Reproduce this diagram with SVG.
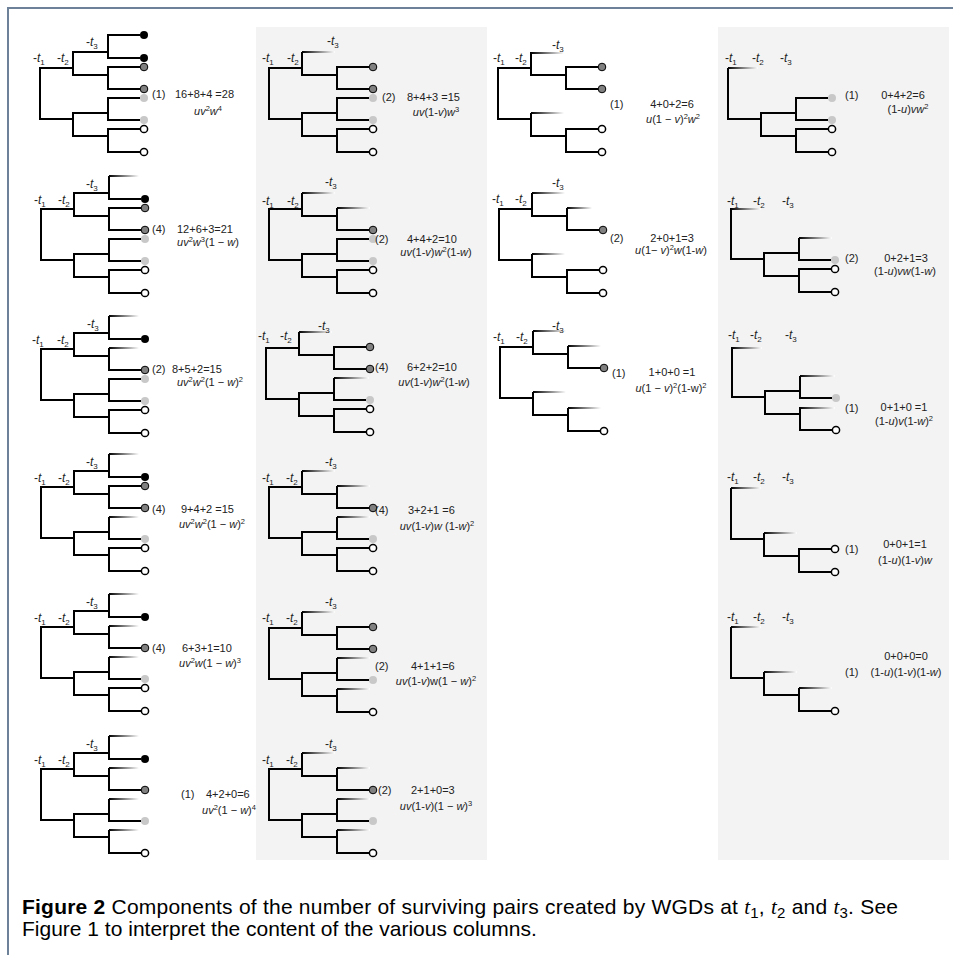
<svg xmlns="http://www.w3.org/2000/svg" width="953" height="955" viewBox="0 0 953 955">
<defs>
<linearGradient id="fade" x1="0" y1="0" x2="1" y2="0"><stop offset="0" stop-color="#000"/><stop offset="1" stop-color="#fff"/></linearGradient>
<style>
.br{fill:none;stroke:#000;stroke-width:2;stroke-linejoin:miter}
.fd{fill:url(#fade)}
.k{fill:#000}
.d{fill:#808080;stroke:#000;stroke-width:1}
.l{fill:#c8c8c8}
.w{fill:#fff;stroke:#000;stroke-width:1.5}
.lb{font-family:"Liberation Sans",Arial,sans-serif;font-size:12px;fill:#222}
.tx{font-family:"Liberation Sans",Arial,sans-serif;font-size:11px;fill:#222}
.i{font-style:italic}
.sb{font-size:8px}
.sp{font-size:7.5px}
.cap{font-family:"Liberation Sans",Arial,sans-serif;font-size:21px;fill:#000}
.m{font-family:"Liberation Serif",serif;font-style:italic}
.panel{fill:#f3f3f3}
.frame{stroke:#6d8299;stroke-width:2;fill:none}
</style>
</defs>
<path class="frame" d="M8 955V8H953"/>
<rect class="panel" x="256" y="27" width="231" height="833"/>
<rect class="panel" x="718" y="27" width="231" height="833"/>

<!-- Column 1 -->
<g id="c1r1">
<g transform="translate(40,35)">
<path class="br" d="M33 33H0V84H33M68 17H33V40H68M100 0H68V23H100M100 32H68V54H100M68 78H33V101H68M100 63H68V85H100M100 94H68V117H100"/>
<circle class="k" cx="104" cy="0" r="4"/><circle class="k" cx="104" cy="23" r="4"/><circle class="d" cx="104" cy="32" r="3.8"/><circle class="d" cx="104" cy="54" r="3.8"/><circle class="l" cx="104" cy="63" r="4"/><circle class="l" cx="104" cy="85" r="4"/><circle class="w" cx="104" cy="94" r="3.6"/><circle class="w" cx="104" cy="117" r="3.6"/>
<text class="lb" x="-7" y="27">-<tspan class="i">t</tspan><tspan class="sb" dy="3">1</tspan></text>
<text class="lb" x="17" y="27">-<tspan class="i">t</tspan><tspan class="sb" dy="3">2</tspan></text>
<text class="lb" x="46" y="11">-<tspan class="i">t</tspan><tspan class="sb" dy="3">3</tspan></text>
</g>
<text class="tx" x="152" y="98">(1)</text><text class="tx" x="175" y="98">16+8+4 =28</text>
<text class="tx" x="208" y="115" text-anchor="middle"><tspan class="i">uv</tspan><tspan class="sp" dy="-4">2</tspan><tspan class="i" dy="4">w</tspan><tspan class="sp" dy="-4">4</tspan></text>
</g>

<g id="c1r2">
<g transform="translate(41,176)">
<path class="br" d="M33 33H0V84H33M68 17H33V40H68M68 0V23H100M100 32H68V54H100M68 78H33V101H68M100 63H68V85H100M100 94H68V117H100"/>
<rect class="fd" x="68" y="-1" width="30" height="2"/>
<circle class="k" cx="104" cy="23" r="4"/><circle class="d" cx="104" cy="32" r="3.8"/><circle class="d" cx="104" cy="54" r="3.8"/><circle class="l" cx="104" cy="63" r="4"/><circle class="l" cx="104" cy="85" r="4"/><circle class="w" cx="104" cy="94" r="3.6"/><circle class="w" cx="104" cy="117" r="3.6"/>
<text class="lb" x="-7" y="28">-<tspan class="i">t</tspan><tspan class="sb" dy="3">1</tspan></text>
<text class="lb" x="17" y="28">-<tspan class="i">t</tspan><tspan class="sb" dy="3">2</tspan></text>
<text class="lb" x="45" y="12">-<tspan class="i">t</tspan><tspan class="sb" dy="3">3</tspan></text>
</g>
<text class="tx" x="152" y="233">(4)</text><text class="tx" x="177" y="233">12+6+3=21</text>
<text class="tx" x="208" y="246" text-anchor="middle"><tspan class="i">uv</tspan><tspan class="sp" dy="-4">2</tspan><tspan class="i" dy="4">w</tspan><tspan class="sp" dy="-4">3</tspan><tspan dy="4">(1 − </tspan><tspan class="i">w</tspan>)</text>
</g>

<g id="c1r3">
<g transform="translate(41,316)">
<path class="br" d="M33 33H0V84H33M68 17H33V40H68M68 0V23H100M68 32V54H100M68 78H33V101H68M100 63H68V85H100M100 94H68V117H100"/>
<rect class="fd" x="68" y="-1" width="30" height="2"/><rect class="fd" x="68" y="31" width="30" height="2"/>
<circle class="k" cx="104" cy="23" r="4"/><circle class="d" cx="104" cy="54" r="3.8"/><circle class="l" cx="104" cy="63" r="4"/><circle class="l" cx="104" cy="85" r="4"/><circle class="w" cx="104" cy="94" r="3.6"/><circle class="w" cx="104" cy="117" r="3.6"/>
<text class="lb" x="-9" y="28">-<tspan class="i">t</tspan><tspan class="sb" dy="3">1</tspan></text>
<text class="lb" x="16" y="28">-<tspan class="i">t</tspan><tspan class="sb" dy="3">2</tspan></text>
<text class="lb" x="46" y="12">-<tspan class="i">t</tspan><tspan class="sb" dy="3">3</tspan></text>
</g>
<text class="tx" x="152" y="373">(2)</text><text class="tx" x="172" y="373">8+5+2=15</text>
<text class="tx" x="210" y="386" text-anchor="middle"><tspan class="i">uv</tspan><tspan class="sp" dy="-4">2</tspan><tspan class="i" dy="4">w</tspan><tspan class="sp" dy="-4">2</tspan><tspan dy="4">(1 − </tspan><tspan class="i">w</tspan>)<tspan class="sp" dy="-4">2</tspan></text>
</g>

<g id="c1r4">
<g transform="translate(41,454)">
<path class="br" d="M33 33H0V84H33M68 17H33V40H68M68 0V23H100M100 32H68V54H100M68 78H33V101H68M68 63V85H100M100 94H68V117H100"/>
<rect class="fd" x="68" y="-1" width="30" height="2"/><rect class="fd" x="68" y="62" width="30" height="2"/>
<circle class="k" cx="104" cy="23" r="4"/><circle class="d" cx="104" cy="32" r="3.8"/><circle class="d" cx="104" cy="54" r="3.8"/><circle class="l" cx="104" cy="85" r="4"/><circle class="w" cx="104" cy="94" r="3.6"/><circle class="w" cx="104" cy="117" r="3.6"/>
<text class="lb" x="-7" y="28">-<tspan class="i">t</tspan><tspan class="sb" dy="3">1</tspan></text>
<text class="lb" x="17" y="28">-<tspan class="i">t</tspan><tspan class="sb" dy="3">2</tspan></text>
<text class="lb" x="45" y="12">-<tspan class="i">t</tspan><tspan class="sb" dy="3">3</tspan></text>
</g>
<text class="tx" x="152" y="513">(4)</text><text class="tx" x="181" y="513">9+4+2 =15</text>
<text class="tx" x="212" y="528" text-anchor="middle"><tspan class="i">uv</tspan><tspan class="sp" dy="-4">2</tspan><tspan class="i" dy="4">w</tspan><tspan class="sp" dy="-4">2</tspan><tspan dy="4">(1 − </tspan><tspan class="i">w</tspan>)<tspan class="sp" dy="-4">2</tspan></text>
</g>

<g id="c1r5">
<g transform="translate(41,594)">
<path class="br" d="M33 33H0V84H33M68 17H33V40H68M68 0V23H100M68 32V54H100M68 78H33V101H68M68 63V85H100M100 94H68V117H100"/>
<rect class="fd" x="68" y="-1" width="30" height="2"/><rect class="fd" x="68" y="31" width="30" height="2"/><rect class="fd" x="68" y="62" width="30" height="2"/>
<circle class="k" cx="104" cy="23" r="4"/><circle class="d" cx="104" cy="54" r="3.8"/><circle class="l" cx="104" cy="85" r="4"/><circle class="w" cx="104" cy="94" r="3.6"/><circle class="w" cx="104" cy="117" r="3.6"/>
<text class="lb" x="-7" y="28">-<tspan class="i">t</tspan><tspan class="sb" dy="3">1</tspan></text>
<text class="lb" x="17" y="28">-<tspan class="i">t</tspan><tspan class="sb" dy="3">2</tspan></text>
<text class="lb" x="45" y="12">-<tspan class="i">t</tspan><tspan class="sb" dy="3">3</tspan></text>
</g>
<text class="tx" x="152" y="652">(4)</text><text class="tx" x="182" y="652">6+3+1=10</text>
<text class="tx" x="210" y="667" text-anchor="middle"><tspan class="i">uv</tspan><tspan class="sp" dy="-4">2</tspan><tspan class="i" dy="4">w</tspan>(1 − <tspan class="i">w</tspan>)<tspan class="sp" dy="-4">3</tspan></text>
</g>

<g id="c1r6">
<g transform="translate(41,736)">
<path class="br" d="M33 33H0V84H33M68 17H33V40H68M68 0V23H100M68 32V54H100M68 78H33V101H68M68 63V85H100M68 94V117H100"/>
<rect class="fd" x="68" y="-1" width="30" height="2"/><rect class="fd" x="68" y="31" width="30" height="2"/><rect class="fd" x="68" y="62" width="30" height="2"/><rect class="fd" x="68" y="93" width="30" height="2"/>
<circle class="k" cx="104" cy="23" r="4"/><circle class="d" cx="104" cy="54" r="3.8"/><circle class="l" cx="104" cy="85" r="4"/><circle class="w" cx="104" cy="117" r="3.6"/>
<text class="lb" x="-7" y="28">-<tspan class="i">t</tspan><tspan class="sb" dy="3">1</tspan></text>
<text class="lb" x="17" y="28">-<tspan class="i">t</tspan><tspan class="sb" dy="3">2</tspan></text>
<text class="lb" x="45" y="12">-<tspan class="i">t</tspan><tspan class="sb" dy="3">3</tspan></text>
</g>
<text class="tx" x="181" y="798">(1)</text><text class="tx" x="206" y="798">4+2+0=6</text>
<text class="tx" x="229" y="814" text-anchor="middle"><tspan class="i">uv</tspan><tspan class="sp" dy="-4">2</tspan><tspan dy="4">(1 − </tspan><tspan class="i">w</tspan>)<tspan class="sp" dy="-4">4</tspan></text>
</g>

<!-- Column 2 -->
<g id="c2r1">
<g transform="translate(269,35)">
<path class="br" d="M33 33H0V84H33M33 17V40H68M100 32H68V54H100M68 78H33V101H68M100 63H68V85H100M100 94H68V117H100"/>
<rect class="fd" x="33" y="16" width="33" height="2"/>
<circle class="d" cx="104" cy="32" r="3.8"/><circle class="d" cx="104" cy="54" r="3.8"/><circle class="l" cx="104" cy="63" r="4"/><circle class="l" cx="104" cy="85" r="4"/><circle class="w" cx="104" cy="94" r="3.6"/><circle class="w" cx="104" cy="117" r="3.6"/>
<text class="lb" x="-7" y="27">-<tspan class="i">t</tspan><tspan class="sb" dy="3">1</tspan></text>
<text class="lb" x="18" y="27">-<tspan class="i">t</tspan><tspan class="sb" dy="3">2</tspan></text>
<text class="lb" x="58" y="10">-<tspan class="i">t</tspan><tspan class="sb" dy="3">3</tspan></text>
</g>
<text class="tx" x="382" y="101">(2)</text><text class="tx" x="407" y="101">8+4+3 =15</text>
<text class="tx" x="436" y="116" text-anchor="middle"><tspan class="i">uv</tspan>(1-<tspan class="i">v</tspan>)<tspan class="i">w</tspan><tspan class="sp" dy="-4">3</tspan></text>
</g>

<g id="c2r2">
<g transform="translate(269,176)">
<path class="br" d="M33 33H0V84H33M33 17V40H68M68 32V54H100M68 78H33V101H68M100 63H68V85H100M100 94H68V117H100"/>
<rect class="fd" x="33" y="16" width="33" height="2"/><rect class="fd" x="68" y="31" width="33" height="2"/>
<circle class="d" cx="104" cy="54" r="3.8"/><circle class="l" cx="104" cy="63" r="4"/><circle class="l" cx="104" cy="85" r="4"/><circle class="w" cx="104" cy="94" r="3.6"/><circle class="w" cx="104" cy="117" r="3.6"/>
<text class="lb" x="-7" y="29">-<tspan class="i">t</tspan><tspan class="sb" dy="3">1</tspan></text>
<text class="lb" x="18" y="29">-<tspan class="i">t</tspan><tspan class="sb" dy="3">2</tspan></text>
<text class="lb" x="56" y="10">-<tspan class="i">t</tspan><tspan class="sb" dy="3">3</tspan></text>
</g>
<text class="tx" x="375" y="243">(2)</text><text class="tx" x="407" y="243">4+4+2=10</text>
<text class="tx" x="436" y="256" text-anchor="middle"><tspan class="i">uv</tspan>(1-<tspan class="i">v</tspan>)<tspan class="i">w</tspan><tspan class="sp" dy="-4">2</tspan><tspan dy="4">(1-</tspan><tspan class="i">w</tspan>)</text>
</g>

<g id="c2r3">
<g transform="translate(266,315)">
<path class="br" d="M33 33H0V84H33M33 17V40H68M100 32H68V54H100M68 78H33V101H68M68 63V85H100M100 94H68V117H100"/>
<rect class="fd" x="33" y="16" width="33" height="2"/><rect class="fd" x="68" y="62" width="35" height="2"/>
<circle class="d" cx="104" cy="32" r="3.8"/><circle class="d" cx="104" cy="54" r="3.8"/><circle class="l" cx="104" cy="85" r="4"/><circle class="w" cx="104" cy="94" r="3.6"/><circle class="w" cx="104" cy="117" r="3.6"/>
<text class="lb" x="-8" y="25">-<tspan class="i">t</tspan><tspan class="sb" dy="3">1</tspan></text>
<text class="lb" x="14" y="25">-<tspan class="i">t</tspan><tspan class="sb" dy="3">2</tspan></text>
<text class="lb" x="52" y="15">-<tspan class="i">t</tspan><tspan class="sb" dy="3">3</tspan></text>
</g>
<text class="tx" x="375" y="371">(4)</text><text class="tx" x="407" y="371">6+2+2=10</text>
<text class="tx" x="434" y="386" text-anchor="middle"><tspan class="i">uv</tspan>(1-<tspan class="i">v</tspan>)<tspan class="i">w</tspan><tspan class="sp" dy="-4">2</tspan><tspan dy="4">(1-</tspan><tspan class="i">w</tspan>)</text>
</g>

<g id="c2r4">
<g transform="translate(269,454)">
<path class="br" d="M33 33H0V84H33M33 17V40H68M68 32V54H100M68 78H33V101H68M68 63V85H100M100 94H68V117H100"/>
<rect class="fd" x="33" y="16" width="33" height="2"/><rect class="fd" x="68" y="31" width="33" height="2"/><rect class="fd" x="68" y="62" width="33" height="2"/>
<circle class="d" cx="104" cy="54" r="3.8"/><circle class="l" cx="104" cy="85" r="4"/><circle class="w" cx="104" cy="94" r="3.6"/><circle class="w" cx="104" cy="117" r="3.6"/>
<text class="lb" x="-7" y="28">-<tspan class="i">t</tspan><tspan class="sb" dy="3">1</tspan></text>
<text class="lb" x="17" y="28">-<tspan class="i">t</tspan><tspan class="sb" dy="3">2</tspan></text>
<text class="lb" x="56" y="12">-<tspan class="i">t</tspan><tspan class="sb" dy="3">3</tspan></text>
</g>
<text class="tx" x="375" y="514">(4)</text><text class="tx" x="408" y="514">3+2+1 =6</text>
<text class="tx" x="437" y="530" text-anchor="middle"><tspan class="i">uv</tspan>(1-<tspan class="i">v</tspan>)<tspan class="i">w</tspan> (1-<tspan class="i">w</tspan>)<tspan class="sp" dy="-4">2</tspan></text>
</g>

<g id="c2r5">
<g transform="translate(269,595)">
<path class="br" d="M33 33H0V84H33M33 17V40H68M100 32H68V54H100M68 78H33V101H68M68 63V85H100M68 94V117H100"/>
<rect class="fd" x="33" y="16" width="33" height="2"/><rect class="fd" x="68" y="62" width="33" height="2"/><rect class="fd" x="68" y="93" width="33" height="2"/>
<circle class="d" cx="104" cy="32" r="3.8"/><circle class="d" cx="104" cy="54" r="3.8"/><circle class="l" cx="104" cy="85" r="4"/><circle class="w" cx="104" cy="117" r="3.6"/>
<text class="lb" x="-7" y="27">-<tspan class="i">t</tspan><tspan class="sb" dy="3">1</tspan></text>
<text class="lb" x="17" y="27">-<tspan class="i">t</tspan><tspan class="sb" dy="3">2</tspan></text>
<text class="lb" x="56" y="11">-<tspan class="i">t</tspan><tspan class="sb" dy="3">3</tspan></text>
</g>
<text class="tx" x="375" y="670">(2)</text><text class="tx" x="411" y="670">4+1+1=6</text>
<text class="tx" x="436" y="685" text-anchor="middle"><tspan class="i">uv</tspan>(1-<tspan class="i">v</tspan>)w(1 − <tspan class="i">w</tspan>)<tspan class="sp" dy="-4">2</tspan></text>
</g>

<g id="c2r6">
<g transform="translate(269,736)">
<path class="br" d="M33 33H0V84H33M33 17V40H68M68 32V54H100M68 78H33V101H68M68 63V85H100M68 94V117H100"/>
<rect class="fd" x="33" y="16" width="33" height="2"/><rect class="fd" x="68" y="31" width="33" height="2"/><rect class="fd" x="68" y="62" width="33" height="2"/><rect class="fd" x="68" y="93" width="33" height="2"/>
<circle class="d" cx="104" cy="54" r="3.8"/><circle class="l" cx="104" cy="85" r="4"/><circle class="w" cx="104" cy="117" r="3.6"/>
<text class="lb" x="-7" y="28">-<tspan class="i">t</tspan><tspan class="sb" dy="3">1</tspan></text>
<text class="lb" x="17" y="28">-<tspan class="i">t</tspan><tspan class="sb" dy="3">2</tspan></text>
<text class="lb" x="56" y="12">-<tspan class="i">t</tspan><tspan class="sb" dy="3">3</tspan></text>
</g>
<text class="tx" x="378" y="794">(2)</text><text class="tx" x="411" y="794">2+1+0=3</text>
<text class="tx" x="436" y="810" text-anchor="middle"><tspan class="i">uv</tspan>(1-<tspan class="i">v</tspan>)(1 − <tspan class="i">w</tspan>)<tspan class="sp" dy="-4">3</tspan></text>
</g>

<!-- Column 3 -->
<g id="c3r1">
<g transform="translate(498,35)">
<path class="br" d="M33 33H0V84H33M33 17V40H68M100 32H68V54H100M33 78V101H68M100 94H68V117H100"/>
<rect class="fd" x="33" y="17" width="33" height="2"/><rect class="fd" x="33" y="77" width="33" height="2"/>
<circle class="d" cx="104" cy="32" r="3.8"/><circle class="d" cx="104" cy="54" r="3.8"/><circle class="w" cx="104" cy="94" r="3.6"/><circle class="w" cx="104" cy="117" r="3.6"/>
<text class="lb" x="-5" y="27">-<tspan class="i">t</tspan><tspan class="sb" dy="3">1</tspan></text>
<text class="lb" x="17" y="27">-<tspan class="i">t</tspan><tspan class="sb" dy="3">2</tspan></text>
<text class="lb" x="54" y="14">-<tspan class="i">t</tspan><tspan class="sb" dy="3">3</tspan></text>
</g>
<text class="tx" x="610" y="108">(1)</text><text class="tx" x="672" y="108" text-anchor="middle">4+0+2=6</text>
<text class="tx" x="673" y="123" text-anchor="middle"><tspan class="i">u</tspan>(1 − <tspan class="i">v</tspan>)<tspan class="sp" dy="-4">2</tspan><tspan class="i" dy="4">w</tspan><tspan class="sp" dy="-4">2</tspan></text>
</g>

<g id="c3r2">
<g transform="translate(499,176)">
<path class="br" d="M33 33H0V84H33M33 17V40H68M68 32V54H100M33 78V101H68M100 94H68V117H100"/>
<rect class="fd" x="33" y="16" width="33" height="2"/><rect class="fd" x="68" y="31" width="25" height="2"/><rect class="fd" x="33" y="77" width="33" height="2"/>
<circle class="d" cx="104" cy="54" r="3.8"/><circle class="w" cx="104" cy="94" r="3.6"/><circle class="w" cx="104" cy="117" r="3.6"/>
<text class="lb" x="-7" y="27">-<tspan class="i">t</tspan><tspan class="sb" dy="3">1</tspan></text>
<text class="lb" x="16" y="27">-<tspan class="i">t</tspan><tspan class="sb" dy="3">2</tspan></text>
<text class="lb" x="53" y="11">-<tspan class="i">t</tspan><tspan class="sb" dy="3">3</tspan></text>
</g>
<text class="tx" x="610" y="242">(2)</text><text class="tx" x="672" y="242" text-anchor="middle">2+0+1=3</text>
<text class="tx" x="671" y="254" text-anchor="middle"><tspan class="i">u</tspan>(1− <tspan class="i">v</tspan>)<tspan class="sp" dy="-4">2</tspan><tspan class="i" dy="4">w</tspan>(1-<tspan class="i">w</tspan>)</text>
</g>

<g id="c3r3">
<g transform="translate(500,314)">
<path class="br" d="M33 33H0V84H33M33 17V40H68M68 32V54H100M33 78V101H68M68 94V117H100"/>
<rect class="fd" x="33" y="16" width="33" height="2"/><rect class="fd" x="68" y="31" width="33" height="2"/><rect class="fd" x="33" y="77" width="33" height="2"/><rect class="fd" x="68" y="93" width="33" height="2"/>
<circle class="d" cx="104" cy="54" r="3.8"/><circle class="w" cx="104" cy="117" r="3.6"/>
<text class="lb" x="-7" y="27">-<tspan class="i">t</tspan><tspan class="sb" dy="3">1</tspan></text>
<text class="lb" x="16" y="27">-<tspan class="i">t</tspan><tspan class="sb" dy="3">2</tspan></text>
<text class="lb" x="52" y="16">-<tspan class="i">t</tspan><tspan class="sb" dy="3">3</tspan></text>
</g>
<text class="tx" x="612" y="377">(1)</text><text class="tx" x="672" y="376" text-anchor="middle">1+0+0 =1</text>
<text class="tx" x="671" y="392" text-anchor="middle"><tspan class="i">u</tspan>(1 − <tspan class="i">v</tspan>)<tspan class="sp" dy="-4">2</tspan><tspan dy="4">(1-w)</tspan><tspan class="sp" dy="-4">2</tspan></text>
</g>

<!-- Column 4 -->
<g id="c4r1">
<g transform="translate(728,35)">
<path class="br" d="M0 33V84H33M68 78H33V101H68M100 63H68V85H100M100 94H68V117H100"/>
<rect class="fd" x="0" y="32" width="30" height="2"/>
<circle class="l" cx="104" cy="63" r="4"/><circle class="l" cx="104" cy="85" r="4"/><circle class="w" cx="104" cy="94" r="3.6"/><circle class="w" cx="104" cy="117" r="3.6"/>
<text class="lb" x="-3" y="27">-<tspan class="i">t</tspan><tspan class="sb" dy="3">1</tspan></text>
<text class="lb" x="24" y="27">-<tspan class="i">t</tspan><tspan class="sb" dy="3">2</tspan></text>
<text class="lb" x="52" y="27">-<tspan class="i">t</tspan><tspan class="sb" dy="3">3</tspan></text>
</g>
<text class="tx" x="845" y="99">(1)</text><text class="tx" x="903" y="99" text-anchor="middle">0+4+2=6</text>
<text class="tx" x="908" y="113" text-anchor="middle">(1-<tspan class="i">u</tspan>)<tspan class="i">vw</tspan><tspan class="sp" dy="-4">2</tspan></text>
</g>

<g id="c4r2">
<g transform="translate(731,175)">
<path class="br" d="M0 33V84H33M68 78H33V101H68M68 63V85H100M100 94H68V117H100"/>
<rect class="fd" x="0" y="33" width="30" height="2"/><rect class="fd" x="68" y="62" width="33" height="2"/>
<circle class="l" cx="104" cy="85" r="4"/><circle class="w" cx="104" cy="94" r="3.6"/><circle class="w" cx="104" cy="117" r="3.6"/>
<text class="lb" x="-4" y="30">-<tspan class="i">t</tspan><tspan class="sb" dy="3">1</tspan></text>
<text class="lb" x="22" y="30">-<tspan class="i">t</tspan><tspan class="sb" dy="3">2</tspan></text>
<text class="lb" x="51" y="30">-<tspan class="i">t</tspan><tspan class="sb" dy="3">3</tspan></text>
</g>
<text class="tx" x="845" y="262">(2)</text><text class="tx" x="906" y="262" text-anchor="middle">0+2+1=3</text>
<text class="tx" x="905" y="275" text-anchor="middle">(1-<tspan class="i">u</tspan>)<tspan class="i">vw</tspan>(1-<tspan class="i">w</tspan>)</text>
</g>

<g id="c4r3">
<g transform="translate(732,313)">
<path class="br" d="M0 34V84H33M68 78H33V101H68M68 63V85H100M68 94V117H100"/>
<rect class="fd" x="0" y="34" width="30" height="2"/><rect class="fd" x="68" y="62" width="35" height="2"/><rect class="fd" x="68" y="94" width="35" height="2"/>
<circle class="l" cx="104" cy="85" r="4"/><circle class="w" cx="104" cy="117" r="3.6"/>
<text class="lb" x="-4" y="26">-<tspan class="i">t</tspan><tspan class="sb" dy="3">1</tspan></text>
<text class="lb" x="18" y="26">-<tspan class="i">t</tspan><tspan class="sb" dy="3">2</tspan></text>
<text class="lb" x="53" y="26">-<tspan class="i">t</tspan><tspan class="sb" dy="3">3</tspan></text>
</g>
<text class="tx" x="845" y="412">(1)</text><text class="tx" x="904" y="411" text-anchor="middle">0+1+0 =1</text>
<text class="tx" x="904" y="425" text-anchor="middle">(1-<tspan class="i">u</tspan>)<tspan class="i">v</tspan>(1-<tspan class="i">w</tspan>)<tspan class="sp" dy="-4">2</tspan></text>
</g>

<g id="c4r4">
<g transform="translate(731,455)">
<path class="br" d="M0 33V84H33M33 78V101H68M100 94H68V117H100"/>
<rect class="fd" x="0" y="32" width="30" height="2"/><rect class="fd" x="33" y="77" width="33" height="2"/>
<circle class="w" cx="104" cy="94" r="3.6"/><circle class="w" cx="104" cy="117" r="3.6"/>
<text class="lb" x="-4" y="26">-<tspan class="i">t</tspan><tspan class="sb" dy="3">1</tspan></text>
<text class="lb" x="22" y="26">-<tspan class="i">t</tspan><tspan class="sb" dy="3">2</tspan></text>
<text class="lb" x="51" y="26">-<tspan class="i">t</tspan><tspan class="sb" dy="3">3</tspan></text>
</g>
<text class="tx" x="845" y="553">(1)</text><text class="tx" x="905" y="548" text-anchor="middle">0+0+1=1</text>
<text class="tx" x="905" y="564" text-anchor="middle">(1-<tspan class="i">u</tspan>)(1-<tspan class="i">v</tspan>)<tspan class="i">w</tspan></text>
</g>

<g id="c4r5">
<g transform="translate(731,594)">
<path class="br" d="M0 33V84H33M33 78V101H68M68 94V117H100"/>
<rect class="fd" x="0" y="32" width="30" height="2"/><rect class="fd" x="33" y="77" width="33" height="2"/><rect class="fd" x="68" y="93" width="33" height="2"/>
<circle class="w" cx="104" cy="117" r="3.6"/>
<text class="lb" x="-4" y="27">-<tspan class="i">t</tspan><tspan class="sb" dy="3">1</tspan></text>
<text class="lb" x="22" y="27">-<tspan class="i">t</tspan><tspan class="sb" dy="3">2</tspan></text>
<text class="lb" x="51" y="27">-<tspan class="i">t</tspan><tspan class="sb" dy="3">3</tspan></text>
</g>
<text class="tx" x="845" y="676">(1)</text><text class="tx" x="906" y="660" text-anchor="middle">0+0+0=0</text>
<text class="tx" x="906" y="676" text-anchor="middle">(1-<tspan class="i">u</tspan>)(1-<tspan class="i">v</tspan>)(1-<tspan class="i">w</tspan>)</text>
</g>

<g id="caption">
<text class="cap" x="22" y="914" textLength="876" lengthAdjust="spacing"><tspan font-weight="bold">Figure 2</tspan>  Components of the number of surviving pairs created by WGDs at <tspan class="m">t</tspan><tspan font-size="15" dy="4">1</tspan><tspan dy="-4">, </tspan><tspan class="m">t</tspan><tspan font-size="15" dy="4">2</tspan><tspan dy="-4"> and </tspan><tspan class="m">t</tspan><tspan font-size="15" dy="4">3</tspan><tspan dy="-4">. See</tspan></text>
<text class="cap" x="22" y="936">Figure 1 to interpret the content of the various columns.</text>
</g>
</svg>
